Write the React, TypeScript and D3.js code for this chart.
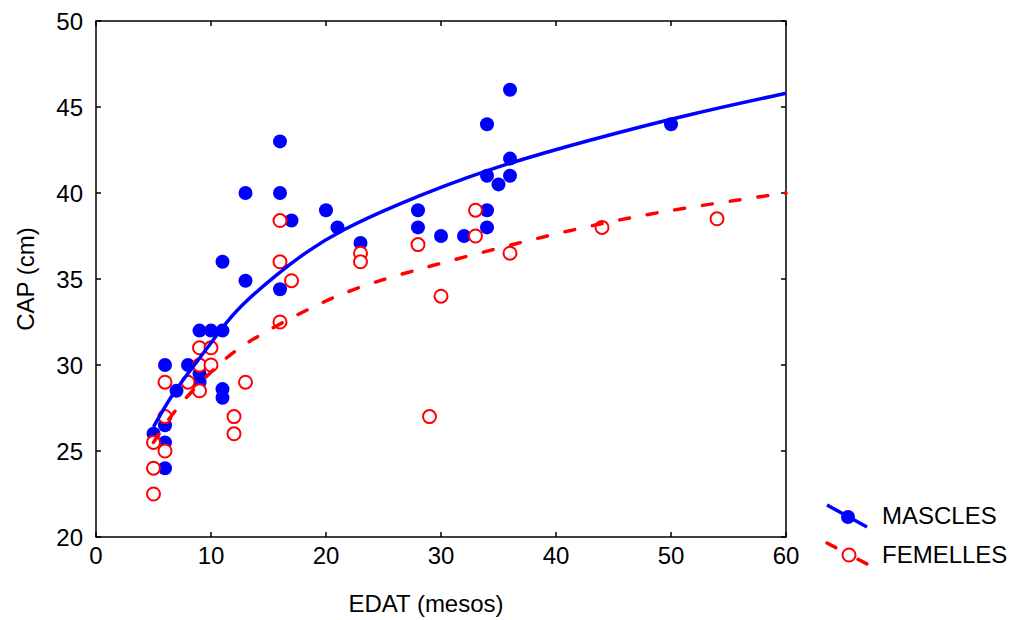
import React from 'react';
import * as d3 from 'd3';

// MASCLES (blue, filled): [edat, cap]
const mascles: [number, number][] = [
  [5, 26], [6, 30], [6, 26.5], [6, 25.5], [6, 24], [7, 28.5], [8, 30],
  [9, 32], [10, 32], [11, 32], [9, 29.5], [9, 29], [11, 28.6], [11, 28.1],
  [11, 36], [13, 40], [13, 34.9], [16, 43], [16, 40], [16, 34.4], [17, 38.4],
  [20, 39], [21, 38], [23, 37.1], [28, 39], [28, 38], [30, 37.5], [32, 37.5],
  [34, 44], [34, 41], [34, 39], [34, 38], [35, 40.5], [36, 46], [36, 42],
  [36, 41], [50, 44],
];

// FEMELLES (red, open)
const femelles: [number, number][] = [
  [5, 25.5], [5, 24], [5, 22.5], [6, 29], [6, 27], [6, 25], [8, 29],
  [9, 31], [9, 30], [9, 28.5], [10, 31], [10, 30], [12, 27], [12, 26],
  [13, 29], [16, 38.4], [16, 36], [16, 32.5], [17, 34.9], [23, 36.5], [23, 36],
  [28, 37], [29, 27], [30, 34], [33, 39], [33, 37.5], [36, 36.5], [44, 38],
  [54, 38.5],
];

// fitted curves
const fitMascles: [number, number][] = [
  [5, 26.4], [6.7, 28.4], [8.8, 30.2], [11, 32.2], [12.5, 33.4], [15.4, 35.1],
  [18.3, 36.6], [21.2, 37.8], [26, 39.3], [34, 41.4], [43, 43.1], [51.7, 44.6],
  [60, 45.8],
];
const fitFemelles: [number, number][] = [
  [5, 25.5], [7, 27.6], [11, 30.3], [13.1, 31.3], [16, 32.4], [19.2, 33.5],
  [22.3, 34.4], [26, 35.2], [34.9, 36.8], [44.1, 38.3], [51.7, 39.2], [60, 40.0],
];

const xTicks = [0, 10, 20, 30, 40, 50, 60];
const yTicks = [20, 25, 30, 35, 40, 45, 50];

const W = 1013;
const H = 620;
const FONT = 'Liberation Sans, Arial, sans-serif';
const FS = 24;

export default function App() {
  const x = d3.scaleLinear().domain([0, 60]).range([96, 786]);
  const y = d3.scaleLinear().domain([20, 50]).range([537, 21]);
  const line = d3.line<[number, number]>()
    .x(d => x(d[0]))
    .y(d => y(d[1]))
    .curve(d3.curveBasis);

  const [x0, x1] = x.range();
  const [y0, y1] = y.range();
  const tl = 5;

  return (
    <svg width={W} height={H} style={{ position: 'absolute', left: 0, top: 0, background: '#fff' }}
      fontFamily={FONT}>
      <rect x={0} y={0} width={W} height={H} fill="#fff" />
      {/* frame */}
      <rect x={x0} y={y1} width={x1 - x0} height={y0 - y1} fill="none" stroke="#000" strokeWidth={1.5} />
      {xTicks.map(t => (
        <g key={'x' + t}>
          <line x1={x(t)} x2={x(t)} y1={y0} y2={y0 - tl} stroke="#000" strokeWidth={1.5} />
          <line x1={x(t)} x2={x(t)} y1={y1} y2={y1 + tl} stroke="#000" strokeWidth={1.5} />
          <text x={x(t)} y={y0 + 27} textAnchor="middle" fontSize={FS}>{t}</text>
        </g>
      ))}
      {yTicks.map(t => (
        <g key={'y' + t}>
          <line x1={x0} x2={x0 + tl} y1={y(t)} y2={y(t)} stroke="#000" strokeWidth={1.5} />
          <line x1={x1} x2={x1 - tl} y1={y(t)} y2={y(t)} stroke="#000" strokeWidth={1.5} />
          <text x={x0 - 13} y={y(t) + 9} textAnchor="end" fontSize={FS}>{t}</text>
        </g>
      ))}
      <text x={426} y={612} textAnchor="middle" fontSize={FS}>EDAT (mesos)</text>
      <text transform={`translate(34,${(y0 + y1) / 2}) rotate(-90)`} textAnchor="middle" fontSize={FS}>CAP (cm)</text>

      <g>
        {mascles.map((d, i) => (
          <circle key={'m' + i} cx={x(d[0])} cy={y(d[1])} r={7} fill="#0000ff" />
        ))}
        {femelles.map((d, i) => (
          <circle key={'f' + i} cx={x(d[0])} cy={y(d[1])} r={6.5} fill="#fff" stroke="#ff0000" strokeWidth={2} />
        ))}
        <path d={line(fitMascles) || ''} fill="none" stroke="#0000ff" strokeWidth={3.5} />
        <path d={line(fitFemelles) || ''} fill="none" stroke="#ff0000" strokeWidth={3.5}
          strokeDasharray="10 18" strokeLinecap="round" />
      </g>

      {/* legend */}
      <g>
        <line x1={827} y1={505} x2={867} y2={527} stroke="#0000ff" strokeWidth={3.5} />
        <circle cx={848} cy={517} r={7} fill="#0000ff" />
        <text x={882} y={524} fontSize={FS}>MASCLES</text>
        <line x1={827} y1={543} x2={867} y2={564} stroke="#ff0000" strokeWidth={3.5}
          strokeDasharray="10 25" strokeLinecap="round" />
        <circle cx={849} cy={555} r={6.5} fill="#fff" stroke="#ff0000" strokeWidth={2} />
        <text x={882} y={563} fontSize={FS}>FEMELLES</text>
      </g>
    </svg>
  );
}
